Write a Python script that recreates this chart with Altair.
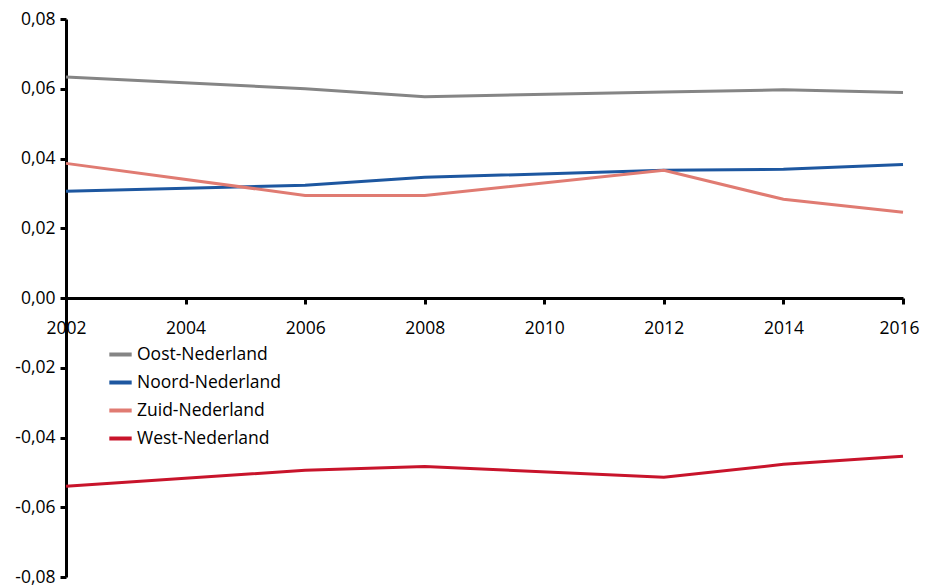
import altair as alt
import pandas as pd

years = [2002, 2006, 2008, 2012, 2014, 2016]
regions = ["Oost-Nederland", "Noord-Nederland", "Zuid-Nederland", "West-Nederland"]
oost = [0.0634, 0.0600, 0.0577, 0.0591, 0.0597, 0.0589]
noord = [0.0306, 0.0323, 0.0346, 0.0366, 0.0369, 0.0383]
zuid = [0.0386, 0.0294, 0.0294, 0.0366, 0.0283, 0.0246]
west = [-0.0540, -0.0494, -0.0483, -0.0514, -0.0477, -0.0454]
colors = ["#858585", "#1d57a0", "#e07b72", "#c8142b"]

rows = []
for name, vals in zip(regions, [oost, noord, zuid, west]):
    for yr, v in zip(years, vals):
        rows.append({"jaar": yr, "regio": name, "waarde": v})
df = pd.DataFrame(rows)

FONT = "Open Sans"
FS = 17.5

chart = alt.Chart(df).mark_line(strokeWidth=3).encode(
    x=alt.X("jaar:Q", scale=alt.Scale(domain=[2002, 2016], nice=False, zero=False),
            axis=alt.Axis(values=[2002, 2004, 2006, 2008, 2010, 2012, 2014, 2016],
                          format="d", title=None, grid=False, offset=-279,
                          domainColor="black", domainWidth=3,
                          tickColor="black", tickWidth=3, tickSize=6,
                          labelPadding=15, labelFontSize=FS, labelFont=FONT,
                          labelOffset={"condition": {"test": "datum.value == 2016", "value": -4},
                                       "value": 0},
                          labelColor="black", labelFlush=False)),
    y=alt.Y("waarde:Q", scale=alt.Scale(domain=[-0.08, 0.08], nice=False),
            axis=alt.Axis(values=[-0.08, -0.06, -0.04, -0.02, 0, 0.02, 0.04, 0.06, 0.08],
                          title=None, grid=False,
                          labelExpr="replace(replace(format(datum.value, '.2f'), '.', ','), '\u2212', '-')",
                          domainColor="black", domainWidth=3,
                          tickColor="black", tickWidth=3, tickSize=6,
                          labelPadding=5, labelFontSize=FS, labelFont=FONT,
                          labelColor="black")),
    color=alt.Color("regio:N", scale=alt.Scale(domain=regions, range=colors),
                    legend=alt.Legend(title=None, orient="none", legendX=41, legendY=322,
                                      symbolType="stroke", symbolStrokeWidth=4,
                                      symbolSize=500, labelFontSize=FS, labelFont=FONT,
                                      labelColor="black", rowPadding=6, labelOffset=3)),
).properties(
    width=837, height=558,
    autosize=alt.AutoSizeParams(type="none"),
    padding={"left": 58, "top": 11, "right": 17, "bottom": 8},
).configure_view(stroke=None)

chart.save("out.html", embed_options={"renderer": "svg", "actions": False})
